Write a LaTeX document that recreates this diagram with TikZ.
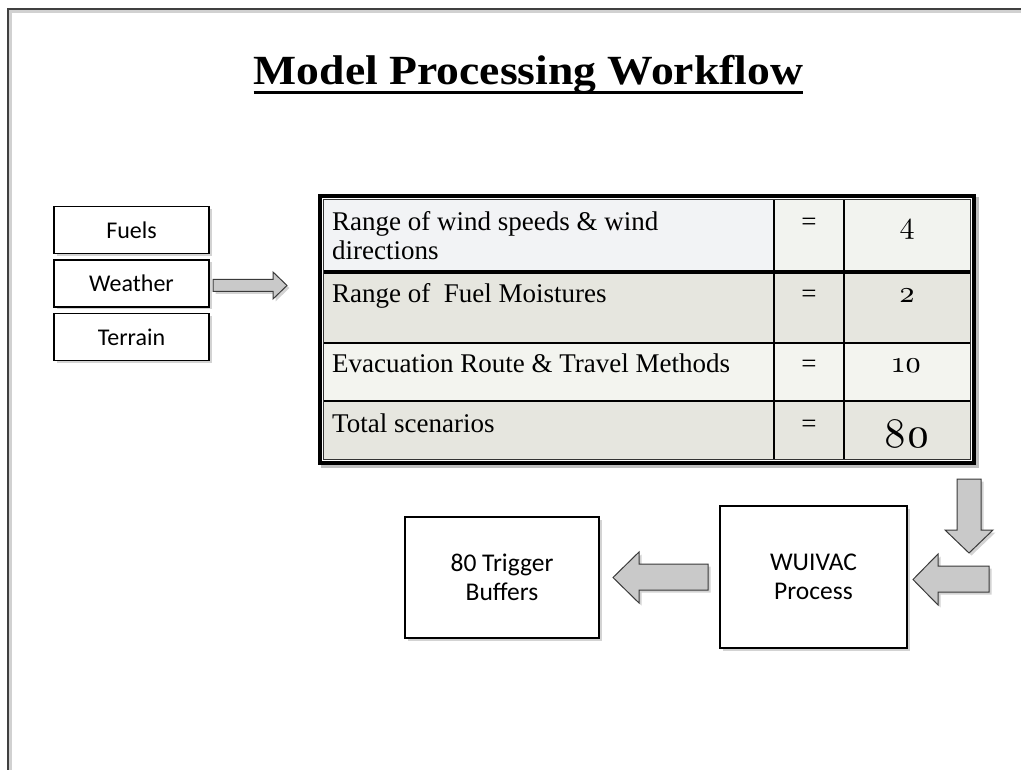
\documentclass[tikz,border=0pt]{standalone}
\usepackage{fontspec}
\newfontfamily\sansf{Carlito}
\newfontfamily\serf{Liberation Serif}
\newfontfamily\titlef{Liberation Serif}[FakeStretch=1.1]
\newfontfamily\osf{lmroman10-regular}[Extension=.otf, Numbers=OldStyle]
\usetikzlibrary{shadows}
\definecolor{rowa}{HTML}{F2F3F5}
\definecolor{rowb}{HTML}{F2F3EF}
\definecolor{rowc}{HTML}{E6E6DF}
\definecolor{rowd}{HTML}{F3F4EF}
\definecolor{arrowfill}{HTML}{C9C9C9}
\definecolor{arrowedge}{HTML}{3A3A3A}
\begin{document}
\begin{tikzpicture}[x=1pt,y=-1pt,
  softshadow/.style={drop shadow={opacity=0.35, shadow xshift=2.5pt, shadow yshift=-2.5pt}},
  smallbox/.style={draw=black, line width=1.3pt, fill=white, minimum width=155pt,
    minimum height=47pt, inner sep=0pt, softshadow,
    font=\sansf\fontsize{24}{28}\selectfont},
  bigbox/.style={draw=black, line width=1.3pt, fill=white, inner sep=0pt, softshadow,
    align=center, font=\sansf\fontsize{25.5}{29}\selectfont},
  cell/.style={inner sep=0pt, anchor=base west, font=\serf\fontsize{27}{29}\selectfont},
  eqcell/.style={inner sep=0pt, anchor=base, font=\serf\fontsize{27}{29}\selectfont},
  numcell/.style={inner sep=0pt, anchor=base, font=\osf\fontsize{30}{32}\selectfont},
  blockarrow/.style={fill=arrowfill, draw=arrowedge, line width=1pt, line join=miter, softshadow}
]
\useasboundingbox (0,0) rectangle (1021,770);
% page frame
\draw[line width=3pt, black!18] (10.5,770) -- (10.5,11.5) -- (1021,11.5);
\draw[line width=2pt, black!75] (8,770) -- (8,9) -- (1021,9);

% title
\node[inner sep=0pt, anchor=base, font=\titlef\bfseries\fontsize{41.5}{48}\selectfont] (title) at (528.5,85) {Model Processing Workflow};
\draw[line width=3pt] ([yshift=-7.5pt]title.base west) -- ([yshift=-7.5pt]title.base east);

% input boxes
\node[smallbox] (fuels) at (131.5,230) {Fuels};
\node[smallbox] (weather) at (131.5,283.5) {Weather};
\node[smallbox] (terrain) at (131.5,337) {Terrain};

% table
\path[fill=white, drop shadow={opacity=0.5, shadow xshift=3pt, shadow yshift=-3pt}] (318,194) rectangle (976,465);
\fill[rowa] (324,200) rectangle (774,272);
\fill[rowb] (774,200) rectangle (970,272);
\fill[rowc] (324,272) rectangle (970,343);
\fill[rowd] (324,343) rectangle (970,401);
\fill[rowc] (324,401) rectangle (970,459);
\draw[line width=2pt] (774,200) -- (774,459) (844,200) -- (844,459);
\draw[line width=4pt] (324,272) -- (970,272);
\draw[line width=2pt] (324,343) -- (970,343) (324,401) -- (970,401);
\draw[line width=1.2pt, black!80] (323.5,199.5) rectangle (970.5,459.5);
\draw[line width=4.5pt] (320,196) rectangle (974,463);

\node[cell] (r1a) at (332,231) {Range of wind speeds \& wind};
\node[cell] (r1b) at (332,260) {directions};
\node[cell] (r2) at (332,303) {Range of~ Fuel Moistures};
\node[cell] (r3) at (332,373) {Evacuation Route \& Travel Methods};
\node[cell] (r4) at (332,432) {Total scenarios};
\node[eqcell] (e1) at (809,231) {=};
\node[eqcell] (e2) at (809,303) {=};
\node[eqcell] (e3) at (809,373) {=};
\node[eqcell] (e4) at (809,432) {=};
\node[numcell] (n1) at (907,234) {4};
\node[numcell] (n2) at (907,303) {2};
\node[numcell] (n3) at (907,373) {10};
\node[numcell, font=\osf\fontsize{42}{46}\selectfont] (n4) at (907,447) {80};

% output boxes
\node[bigbox, minimum width=194pt, minimum height=121pt] (trigger) at (502,577.5) {80 Trigger\\Buffers};
\node[bigbox, minimum width=187pt, minimum height=142pt] (wuivac) at (813.5,577) {WUIVAC\\Process};

% block arrows
\draw[blockarrow] (213,279.5) -- (273,279.5) -- (273,272) -- (287,285.5) -- (273,299) -- (273,291.5) -- (213,291.5) -- cycle;
\draw[blockarrow] (957,479) -- (981,479) -- (981,530) -- (993,530) -- (969,553) -- (945,530) -- (957,530) -- cycle;
\draw[blockarrow] (989,566) -- (938,566) -- (938,554) -- (913,579.5) -- (938,605) -- (938,592) -- (989,592) -- cycle;
\draw[blockarrow] (708,564) -- (639,564) -- (639,552) -- (613,577.5) -- (639,603) -- (639,590) -- (708,590) -- cycle;
\end{tikzpicture}
\end{document}
